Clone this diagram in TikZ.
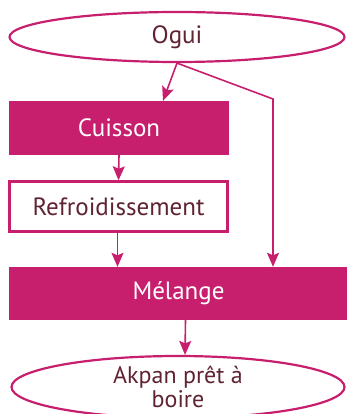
\documentclass[tikz,border=0pt]{standalone}
\usepackage{fontspec}
\setmainfont{PT Sans}
\usetikzlibrary{shapes.geometric, arrows.meta, positioning}

\definecolor{akmagenta}{RGB}{200,30,110}
\definecolor{aktext}{RGB}{95,35,50}

\tikzset{
    flow/.style={draw=akmagenta, line width=1.6pt, -{Stealth[length=14pt, width=12pt, inset=2.5pt]}},
    oval/.style={ellipse, draw=akmagenta, line width=2.2pt, fill=white, text=aktext, align=center},
    fullbox/.style={rectangle, fill=akmagenta, text=white},
    openbox/.style={rectangle, draw=akmagenta, line width=2.4pt, fill=white, text=aktext}
}

\begin{document}
\begin{tikzpicture}[x=1pt, y=-1pt, font=\fontsize{25}{29}\selectfont]
    \useasboundingbox (0,0) rectangle (347,414);

    % Start and end
    \node[oval, minimum width=335pt, minimum height=50pt] (ogui) at (177,37) {Ogui};
    \node[oval, minimum width=333pt, minimum height=62pt, inner sep=0pt,
          font=\fontsize{24}{24}\selectfont] (akpan) at (178,387) {Akpan prêt à\\boire};

    % Steps
    \node[fullbox, minimum width=220pt, minimum height=54pt] (cuisson) at (119,128) {Cuisson};
    \node[openbox, minimum width=218pt, minimum height=50pt] (refroid) at (118.5,206.5) {Refroidissement};
    \node[fullbox, minimum width=339pt, minimum height=53pt] (melange) at (178.5,293.5) {Mélange};

    % Bend of the side branch
    \coordinate (coude) at (273,99);

    % Connectors
    \draw[flow] (ogui.south) -- ([xshift=44pt]cuisson.north);
    \draw[flow] (ogui.south) -- (coude) -- (coude |- melange.north);
    \draw[flow] (cuisson.south) -- (refroid.north);
    \draw[flow] ([xshift=-1pt]refroid.south) -- ([xshift=-1pt]refroid.south |- melange.north);
    \draw[flow] ([xshift=7pt]melange.south) -- ([xshift=7pt]akpan.north);
\end{tikzpicture}
\end{document}
